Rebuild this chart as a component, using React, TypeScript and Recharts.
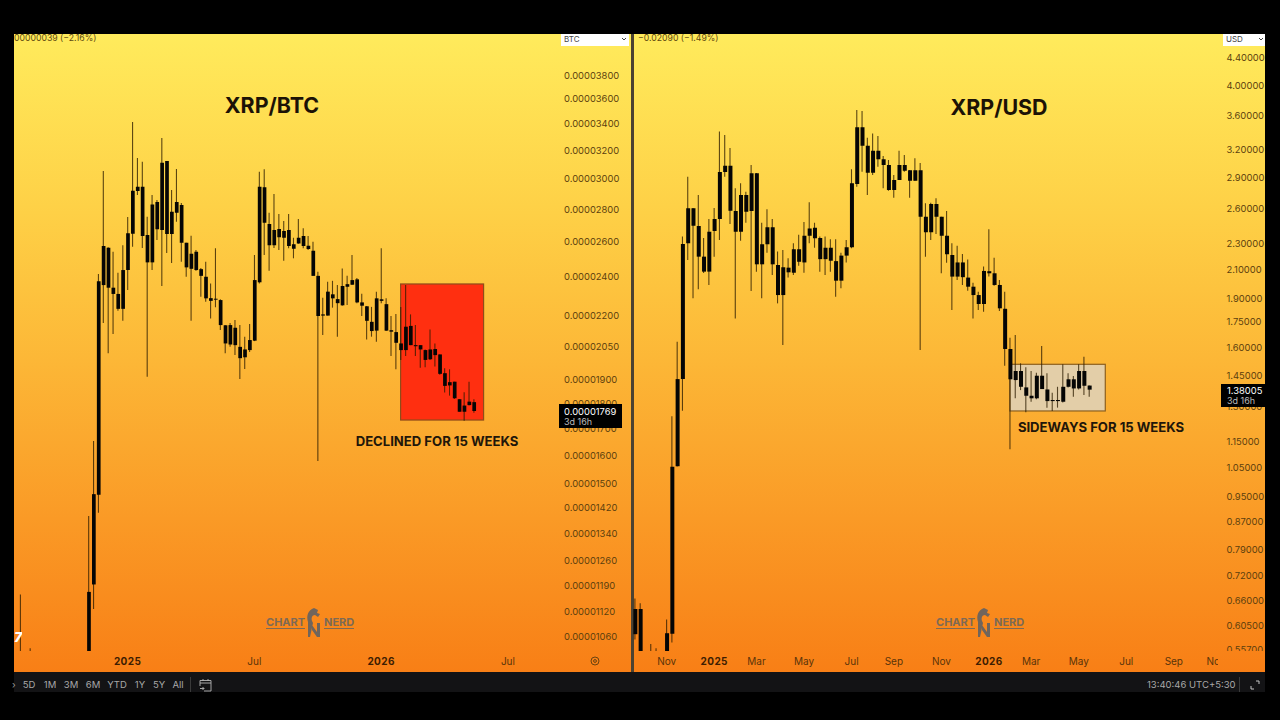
import React from 'react'
import { Bar, ComposedChart, ReferenceArea, XAxis, YAxis } from 'recharts'

// XRP/BTC weekly candles in satoshi, first entry sits on week slot 2
const BTC_FIRST_SLOT = 2
const btcOpen = [980, null, 980, ...Array(11).fill(null),
  1000, 1192, 1462, 2356, 2565, 2342, 2309, 2232, 2438, 2648,
  2918, 2947, 2640, 2481, 2846, 2670, 3124, 2646, 2778, 2827,
  2594, 2445, 2542, 2443, 2401, 2287, 2284, 2277, 2150, 2058,
  2138, 2047, 1999, 2032, 2076, 2371, 2943, 2707, 2580, 2676,
  2664, 2670, 2586, 2590, 2634, 2577, 2548, 2406, 2204, 2198,
  2286, 2282, 2250, 2347, 2358, 2387, 2265, 2245, 2167, 2124,
  2281, 2256, 2126, 2117, 2063, 2032, 2147, 2055, 2055, 2032,
  1990, 2009, 2012, 1928, 1875, 1891, 1817, 1791, 1793, 1805]
const btcClose = [990, null, 990, ...Array(11).fill(null),
  1172, 1464, 2376, 2575, 2342, 2309, 2232, 2438, 2651, 2920,
  2947, 2635, 2481, 2831, 2676, 3112, 2646, 2784, 2846, 2594,
  2453, 2530, 2438, 2406, 2286, 2273, 2279, 2151, 2063, 2151,
  2055, 1995, 2035, 2079, 2383, 2947, 2715, 2580, 2670, 2627,
  2624, 2575, 2559, 2624, 2575, 2558, 2406, 2196, 2198, 2321,
  2307, 2261, 2351, 2361, 2383, 2265, 2248, 2172, 2122, 2286,
  2273, 2124, 2119, 2066, 2032, 2143, 2055, 2050, 2035, 1987,
  2035, 2037, 1925, 1873, 1889, 1821, 1766, 1766, 1807, 1769]
const btcHigh = [1165, null, 1031, ...Array(11).fill(null),
  1393, 1652, 2416, 3055, 2568, 2542, 2423, 2580, 2751, 3415,
  3146, 3120, 2753, 2892, 2859, 3293, 3124, 2925, 3068, 2840,
  2594, 2636, 2552, 2449, 2484, 2365, 2562, 2281, 2151, 2161,
  2176, 2151, 2095, 2156, 2523, 3049, 3066, 2778, 2899, 2770,
  2726, 2770, 2624, 2738, 2682, 2634, 2600, 2428, 2289, 2374,
  2379, 2356, 2447, 2406, 2523, 2394, 2310, 2246, 2242, 2321,
  2562, 2286, 2196, 2206, 2242, 2356, 2204, 2151, 2055, 2035,
  2130, 2063, 2012, 1950, 1945, 1891, 1818, 1846, 1891, 1817]
const btcLow = [970, null, 970, ...Array(11).fill(null),
  990, 1127, 1403, 2161, 2018, 2108, 2222, 2172, 2330, 2571,
  2892, 2564, 1912, 2438, 2610, 2351, 2535, 2477, 2721, 2484,
  2401, 2172, 2434, 2294, 2268, 2184, 2240, 2127, 2017, 2047,
  2009, 1903, 1946, 2023, 2074, 2365, 2523, 2434, 2564, 2552,
  2490, 2562, 2504, 2588, 2562, 2552, 2406, 1579, 2103, 2198,
  2238, 2095, 2248, 2252, 2356, 2260, 2196, 2082, 2095, 2071,
  2261, 2122, 2005, 1945, 1987, 2005, 2055, 2005, 1952, 1954,
  1987, 1957, 1921, 1845, 1832, 1818, 1766, 1730, 1791, 1762]
const btcPriceTicks = [3800, 3600, 3400, 3200, 3000, 2800, 2600, 2400, 2200, 2050, 1900, 1800, 1700, 1600, 1500, 1420, 1340, 1260, 1190, 1120, 1060]
const btcTimeSlots = [24, 50, 76, 102]
const btcTimeLabels = ['2025', 'Jul', '2026', 'Jul']

// XRP/USD weekly candles, first entry sits on week slot 0
const USD_FIRST_SLOT = 0
const usdOpen = [0.587, 0.641, null, 0.5, 0.5, null, 0.53, 0.588, 1.056, 1.432,
  2.302, 2.601, 2.445, 2.197, 2.085, 2.403, 2.506, 2.954, 3.018, 2.577,
  2.397, 2.725, 2.577, 2.94, 2.139, 2.295, 2.434, 2.134, 1.921, 2.114,
  2.077, 2.255, 2.153, 2.364, 2.43, 2.345, 2.178, 2.267, 2.163, 2.02,
  2.205, 2.271, 2.832, 3.453, 3.238, 2.945, 3.181, 3.088, 3.027, 2.773,
  2.872, 3.027, 2.971, 2.865, 2.971, 2.526, 2.392, 2.64, 2.526, 2.364,
  2.21, 2.049, 2.153, 2.042, 1.978, 1.921, 1.862, 2.088, 2.073, 1.99,
  1.831, 1.591, 1.427, 1.473, 1.391, 1.351, 1.339, 1.449, 1.381, 1.331,
  1.331, 1.323, 1.394, 1.431, 1.386, 1.473, 1.4]
const usdClose = [0.641, 0.54, null, 0.52, 0.52, null, 0.589, 1.054, 1.432, 2.297,
  2.601, 2.448, 2.197, 2.085, 2.397, 2.506, 2.954, 3.018, 2.58, 2.397,
  2.725, 2.571, 2.94, 2.139, 2.295, 2.434, 2.139, 1.921, 2.117, 2.08,
  2.255, 2.158, 2.364, 2.425, 2.343, 2.178, 2.267, 2.166, 2.02, 2.205,
  2.271, 2.839, 3.453, 3.238, 2.945, 3.181, 3.088, 3.027, 2.773, 2.872,
  3.027, 2.967, 2.865, 2.971, 2.526, 2.392, 2.64, 2.526, 2.364, 2.215,
  2.049, 2.153, 2.045, 1.978, 1.921, 1.862, 2.09, 2.073, 1.99, 1.834,
  1.591, 1.431, 1.473, 1.394, 1.351, 1.339, 1.449, 1.383, 1.326, 1.326,
  1.326, 1.394, 1.431, 1.386, 1.473, 1.399, 1.38005]
const usdHigh = [0.665, 0.654, null, 0.567, 0.559, null, 0.618, 1.258, 1.632, 2.357,
  2.904, 2.604, 2.725, 2.345, 2.506, 2.604, 3.404, 3.361, 3.212, 2.79,
  2.839, 2.757, 3.027, 2.943, 2.473, 2.592, 2.506, 2.236, 2.249, 2.184,
  2.302, 2.372, 2.481, 2.657, 2.473, 2.357, 2.357, 2.335, 2.335, 2.228,
  2.329, 2.981, 3.669, 3.656, 3.33, 3.38, 3.349, 3.123, 3.08, 2.923,
  3.181, 3.134, 2.974, 3.098, 3.047, 2.647, 2.652, 2.694, 2.526, 2.577,
  2.302, 2.283, 2.218, 2.176, 2.006, 1.944, 2.122, 2.417, 2.188, 2.025,
  1.944, 1.655, 1.67, 1.513, 1.492, 1.473, 1.464, 1.607, 1.461, 1.365,
  1.394, 1.508, 1.461, 1.447, 1.508, 1.548, 1.4]
const usdLow = [0.576, 0.53, null, 0.49, 0.49, null, 0.52, 0.57, 1.055, 1.282,
  2.171, 1.899, 1.96, 2.075, 1.99, 2.197, 2.329, 2.906, 2.462, 1.77,
  2.323, 2.473, 1.948, 2.085, 1.899, 2.228, 2.06, 1.866, 1.613, 2.042,
  2.06, 2.128, 2.077, 2.302, 2.267, 2.085, 2.06, 2.085, 1.91, 1.967,
  2.153, 2.263, 2.805, 2.956, 2.725, 2.923, 3.008, 2.79, 2.767, 2.7,
  2.872, 2.956, 2.7, 2.865, 1.585, 2.197, 2.329, 2.378, 2.073, 2.15,
  1.823, 2.025, 1.99, 1.95, 1.77, 1.823, 1.812, 2.049, 1.985, 1.817,
  1.5, 1.121, 1.339, 1.378, 1.275, 1.323, 1.334, 1.383, 1.296, 1.281,
  1.296, 1.32, 1.391, 1.346, 1.381, 1.354, 1.346]
const usdPriceTicks = [4.4, 4, 3.6, 3.2, 2.9, 2.6, 2.3, 2.1, 1.9, 1.75, 1.6, 1.45, 1.3, 1.15, 1.05, 0.95, 0.87, 0.79, 0.72, 0.66, 0.605, 0.557]
const usdTimeSlots = [6, 15, 23, 32, 41, 49, 58, 67, 75, 84, 93, 102, 110]
const usdTimeLabels = ['Nov', '2025', 'Mar', 'May', 'Jul', 'Sep', 'Nov', '2026', 'Mar', 'May', 'Jul', 'Sep', 'Nov']

const rangeButtons = ['5D', '1M', '3M', '6M', 'YTD', '1Y', '5Y', 'All']
const rangeButtonX = [29, 50, 71, 93, 117, 140, 159, 178]

const FONT = 'Inter, "Noto Sans", sans-serif'
const AXIS_TEXT = '#5c3f0e'
const WICK = 'rgba(45,28,0,0.78)'

function buildRows(
  slots: number,
  first: number,
  open: (number | null)[],
  high: (number | null)[],
  low: (number | null)[],
  close: (number | null)[],
) {
  const rows = []
  for (let week = 0; week < slots; week++) {
    const i = week - first
    const o = open[i]
    const c = close[i]
    if (o == null || c == null) {
      rows.push({ week, wick: null, body: null })
      continue
    }
    rows.push({
      week,
      wick: [low[i], high[i]],
      body: [Math.min(o, c), Math.max(o, c)],
    })
  }
  return rows
}

function TimeTick(props: any) {
  const { x, y, payload, slots, labels, clipX } = props
  const label = labels[slots.indexOf(payload.value)] ?? ''
  const id = `time-${clipX}-${payload.value}`
  const isYear = /^\d+$/.test(label)
  return (
    <g>
      {clipX ? (
        <clipPath id={id}>
          <rect x={x - 40} y={y - 20} width={clipX - x + 40} height={40} />
        </clipPath>
      ) : null}
      <text
        x={x}
        y={y + 6}
        textAnchor="middle"
        fontFamily={FONT}
        fontSize={10}
        fontWeight={isYear ? 700 : 400}
        letterSpacing={isYear ? 0.4 : 0}
        fill={isYear ? '#3d1d02' : '#5a340a'}
        clipPath={clipX ? `url(#${id})` : undefined}
      >
        {label}
      </text>
    </g>
  )
}

function PriceTick(props: any) {
  const { x, y, payload, format, clipY, prefix, shift } = props
  const id = `price-${prefix}-${String(payload.value).replace('.', '_')}`
  const needsClip = y > clipY - 6
  return (
    <g>
      {needsClip ? (
        <clipPath id={id}>
          <rect x={x - 20} y={y - 12} width={80} height={clipY - y + 12} />
        </clipPath>
      ) : null}
      <text
        x={x - shift}
        y={y + 3.5}
        fontFamily={FONT}
        fontSize={9.4}
        fill={AXIS_TEXT}
        clipPath={needsClip ? `url(#${id})` : undefined}
      >
        {format(payload.value)}
      </text>
    </g>
  )
}

function Zone(props: any) {
  const { x, y, width, height, inset, zoneFill, zoneStroke } = props
  return (
    <rect
      x={x + inset}
      y={y}
      width={width - inset * 2}
      height={height}
      fill={zoneFill}
      stroke={zoneStroke}
      strokeWidth={1.2}
    />
  )
}

function CandleChart(props: {
  left: number
  width: number
  marginLeft: number
  axisWidth: number
  rows: any[]
  domain: [number, number]
  priceTicks: number[]
  formatPrice: (v: number) => string
  timeSlots: number[]
  timeLabels: string[]
  clipX?: number
  prefix: string
  shift: number
  bodyWidth: number
  zone: { x1: number; x2: number; y1: number; y2: number; fill: string; stroke: string; inset: number }
}) {
  const { zone } = props
  return (
    <div style={{ position: 'absolute', left: props.left, top: 0 }}>
      <ComposedChart
        width={props.width}
        height={672}
        data={props.rows}
        margin={{ top: 34, right: 0, bottom: 0, left: props.marginLeft }}
      >
        <XAxis
          xAxisId="body"
          dataKey="week"
          type="category"
          height={21}
          axisLine={false}
          tickLine={false}
          ticks={props.timeSlots}
          interval={0}
          tick={<TimeTick slots={props.timeSlots} labels={props.timeLabels} clipX={props.clipX} />}
        />
        <XAxis xAxisId="wick" dataKey="week" type="category" hide />
        <YAxis
          orientation="right"
          scale="log"
          domain={props.domain}
          allowDataOverflow
          width={props.axisWidth}
          axisLine={false}
          tickLine={false}
          ticks={props.priceTicks}
          interval={0}
          tick={<PriceTick format={props.formatPrice} clipY={651} prefix={props.prefix} shift={props.shift} />}
        />
        <ReferenceArea
          xAxisId="body"
          x1={zone.x1}
          x2={zone.x2}
          y1={zone.y1}
          y2={zone.y2}
          shape={<Zone inset={zone.inset} zoneFill={zone.fill} zoneStroke={zone.stroke} />}
        />
        <Bar xAxisId="wick" dataKey="wick" barSize={1.1} fill={WICK} isAnimationActive={false} />
        <Bar xAxisId="body" dataKey="body" barSize={props.bodyWidth} fill="#050505" isAnimationActive={false} />
      </ComposedChart>
    </div>
  )
}

function Logo({ left }: { left: number }) {
  const word: React.CSSProperties = {
    position: 'absolute',
    top: 0,
    fontFamily: FONT,
    fontSize: 11,
    fontWeight: 700,
    color: '#7d6a55',
    borderBottom: '1.5px solid #7d6a55',
    lineHeight: '12px',
  }
  return (
    <div style={{ position: 'absolute', left, top: 616, width: 92, height: 20 }}>
      <span style={{ ...word, left: 0 }}>CHART</span>
      <svg style={{ position: 'absolute', left: 39, top: -8, overflow: 'visible' }} width="16" height="29" viewBox="0 0 16 29">
        <path
          d="M3 29V14C1 8 3 2 9 0l4 2-1 3 3 1-2 3-3-2c-3 0-4 3-3 6l1 2-3 14zM7 17l5 7v-9h3v14h-3l-5-7z"
          fill="#70655c"
        />
      </svg>
      <span style={{ ...word, left: 58 }}>NERD</span>
    </div>
  )
}

const btcRows = buildRows(114, BTC_FIRST_SLOT, btcOpen, btcHigh, btcLow, btcClose)
const usdRows = buildRows(112, USD_FIRST_SLOT, usdOpen, usdHigh, usdLow, usdClose)

const abs = (s: React.CSSProperties): React.CSSProperties => ({ position: 'absolute', whiteSpace: 'nowrap', fontFamily: FONT, ...s })
const panelBg = 'linear-gradient(180deg, #ffeb5c 0%, #fed046 28%, #fcb636 52%, #fa9a26 76%, #f87f16 100%)'

function Chevron({ left }: { left: number }) {
  return (
    <svg style={{ position: 'absolute', left, top: 37 }} width="6" height="4" viewBox="0 0 6 4">
      <path d="M1 1l2 2 2-2" fill="none" stroke="#444" strokeWidth="1" />
    </svg>
  )
}

export default function App() {
  return (
    <div style={{ position: 'absolute', left: 0, top: 0, width: 1280, height: 720, background: '#000', overflow: 'hidden' }}>
      <div style={{ position: 'absolute', left: 14, top: 34, width: 617, height: 638, background: panelBg }} />
      <div style={{ position: 'absolute', left: 634, top: 34, width: 631, height: 638, background: panelBg }} />
      <div style={{ position: 'absolute', left: 631, top: 34, width: 3, height: 638, background: '#4c4231' }} />
      <div style={{ position: 'absolute', left: 14, top: 672, width: 1251, height: 20, background: '#131315' }} />

      <CandleChart
        left={0}
        width={628}
        marginLeft={8.11}
        axisWidth={64}
        rows={btcRows}
        domain={[1024.5, 4172]}
        priceTicks={btcPriceTicks}
        formatPrice={(v) => (v / 1e8).toFixed(8)}
        timeSlots={btcTimeSlots}
        timeLabels={btcTimeLabels}
        prefix="btc"
        shift={8}
        bodyWidth={3.7}
        zone={{ x1: 80, x2: 97, y1: 1733, y2: 2362, fill: '#ff2f10', stroke: '#8f4d1a', inset: 2.4 }}
      />
      <CandleChart
        left={620}
        width={646}
        marginLeft={12.36}
        axisWidth={42}
        rows={usdRows}
        domain={[0.5535, 4.785]}
        priceTicks={usdPriceTicks}
        formatPrice={(v) => v.toFixed(5)}
        timeSlots={usdTimeSlots}
        timeLabels={usdTimeLabels}
        clipX={598}
        prefix="usd"
        shift={5.5}
        bodyWidth={4}
        zone={{ x1: 71, x2: 89, y1: 1.281, y2: 1.508, fill: '#e3cea8', stroke: '#8c5f1e', inset: 2.5 }}
      />

      <div style={abs({ left: 14, top: 33, fontSize: 8.7, color: '#5f4a10', lineHeight: '11px' })}>00000039 (−2.16%)</div>
      <div style={abs({ left: 638, top: 33, fontSize: 8.7, color: '#5f4a10', lineHeight: '11px' })}>−0.02090 (−1.49%)</div>

      <div style={abs({ left: 561, top: 34, width: 68, height: 12, background: '#fff', fontSize: 8, lineHeight: '11px', color: '#444', paddingLeft: 3, boxSizing: 'border-box' })}>BTC</div>
      <div style={abs({ left: 1223, top: 34, width: 42, height: 12, background: '#fff', fontSize: 8, lineHeight: '11px', color: '#444', paddingLeft: 3, boxSizing: 'border-box' })}>USD</div>
      <Chevron left={621} />
      <Chevron left={1258} />

      <div style={abs({ left: 172, top: 92, width: 200, textAlign: 'center', fontSize: 21.4, fontWeight: 700, color: '#1c1206', lineHeight: '26px' })}>XRP/BTC</div>
      <div style={abs({ left: 899, top: 94, width: 200, textAlign: 'center', fontSize: 21.4, fontWeight: 700, color: '#1c1206', lineHeight: '26px' })}>XRP/USD</div>
      <div style={abs({ left: 337, top: 433, width: 200, textAlign: 'center', fontSize: 13.1, fontWeight: 700, color: '#21160a', lineHeight: '16px' })}>DECLINED FOR 15 WEEKS</div>
      <div style={abs({ left: 1001, top: 419, width: 200, textAlign: 'center', fontSize: 13.1, fontWeight: 700, color: '#21160a', lineHeight: '16px' })}>SIDEWAYS FOR 15 WEEKS</div>

      <div style={abs({ left: 559, top: 404, width: 63, height: 24, background: '#000' })}>
        <div style={abs({ left: 5, top: 2, fontSize: 9.4, lineHeight: '11px', color: '#fff' })}>0.00001769</div>
        <div style={abs({ left: 5, top: 13, fontSize: 9, lineHeight: '10px', color: '#bbb' })}>3d 16h</div>
      </div>
      <div style={abs({ left: 1221, top: 384, width: 44, height: 23, background: '#000' })}>
        <div style={abs({ left: 6, top: 1, fontSize: 9.4, lineHeight: '11px', color: '#fff' })}>1.38005</div>
        <div style={abs({ left: 6, top: 12, fontSize: 9, lineHeight: '10px', color: '#bbb' })}>3d 16h</div>
      </div>

      <Logo left={266} />
      <Logo left={936} />

      <div style={abs({ left: 12, top: 630, fontSize: 13, fontWeight: 900, fontStyle: 'italic', color: '#fff', lineHeight: '14px', width: 10, overflow: 'hidden', textAlign: 'right' })}>7</div>

      <svg style={{ position: 'absolute', left: 589, top: 655 }} width="12" height="12" viewBox="0 0 12 12">
        <circle cx="6" cy="6" r="4" fill="none" stroke="#6b4310" strokeWidth="1" />
        <circle cx="6" cy="6" r="1.4" fill="none" stroke="#6b4310" strokeWidth="1" />
      </svg>

      <div style={abs({ left: 12, top: 679, fontSize: 9.5, lineHeight: '12px', color: '#9a9a9a' })}>›</div>
      {rangeButtons.map((label, i) => (
        <div key={label} style={abs({ left: rangeButtonX[i] - 15, width: 30, textAlign: 'center', top: 679, fontSize: 9.5, lineHeight: '12px', color: '#a8a8a8' })}>
          {label}
        </div>
      ))}
      <div style={{ position: 'absolute', left: 190, top: 677, width: 1, height: 15, background: '#3a3a3a' }} />
      <svg style={{ position: 'absolute', left: 199, top: 678 }} width="13" height="14" viewBox="0 0 13 14">
        <path d="M1 8V2.5h11V13H5M1 5h11M4 1v2M9 1v2M1 10.5h4M3.5 9l1.5 1.5L3.5 12" fill="none" stroke="#b5b5b5" strokeWidth="0.9" />
      </svg>

      <div style={abs({ left: 1147, top: 679, fontSize: 9.5, lineHeight: '12px', color: '#a8a8a8' })}>13:40:46 UTC+5:30</div>
      <div style={{ position: 'absolute', left: 1239, top: 677, width: 1, height: 15, background: '#3a3a3a' }} />
      <svg style={{ position: 'absolute', left: 1250, top: 680 }} width="10" height="10" viewBox="0 0 10 10">
        <path d="M6 1h3v3M1 6v3h3" fill="none" stroke="#c5c5c5" strokeWidth="1" />
      </svg>
    </div>
  )
}
